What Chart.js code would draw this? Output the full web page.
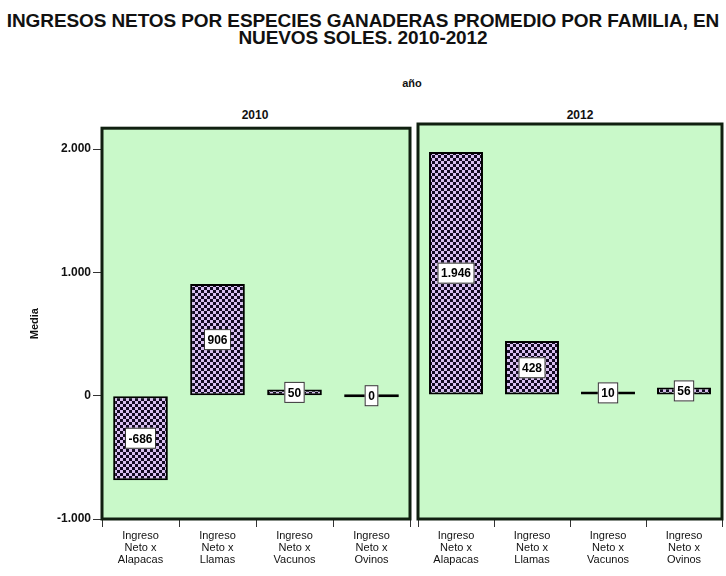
<!DOCTYPE html>
<html>
<head>
<meta charset="utf-8">
<script src="https://cdn.jsdelivr.net/npm/chart.js@4.4.1/dist/chart.umd.min.js"></script>
<style>
body { margin: 0; background: #fff; width: 726px; height: 576px; position: relative; overflow: hidden; font-family: "Liberation Sans", Arial, sans-serif; }
.txt { position: absolute; text-align: center; color: #111; }
#title { left: 0; width: 726px; top: 12px; font-weight: bold; font-size: 19px; line-height: 17px; letter-spacing: -0.1px; white-space: nowrap; }
#anio { left: 0; width: 824px; top: 77px; font-size: 11px; font-weight: bold; }
.year { top: 108px; font-size: 12px; font-weight: bold; width: 100px; }
.box { position: absolute; top: 119px; height: 457px; }
</style>
</head>
<body>
<div id="title" class="txt">INGRESOS NETOS POR ESPECIES GANADERAS PROMEDIO POR FAMILIA, EN<br>NUEVOS SOLES. 2010-2012</div>
<div id="anio" class="txt">año</div>
<div class="txt year" style="left:205px">2010</div>
<div class="txt year" style="left:530px">2012</div>
<div class="box" style="left:0; width:413px"><canvas id="chart2010"></canvas></div>
<div class="box" style="left:414px; width:312px"><canvas id="chart2012"></canvas></div>
<script>
var categorias = [["Ingreso", "Neto x", "Alapacas"], ["Ingreso", "Neto x", "Llamas"], ["Ingreso", "Neto x", "Vacunos"], ["Ingreso", "Neto x", "Ovinos"]]
var valores2010 = [-686, 906, 50, 0]
var valores2012 = [1946, 428, 10, 56]
var yTicks = [-1000, 0, 1000, 2000]

function formato(v) {
    var s = String(Math.abs(Math.round(v))).replace(/\B(?=(\d{3})+(?!\d))/g, ".")
    return (v < 0 ? "-" : "") + s
}

// patron de cuadros para las barras
var pc = document.createElement("canvas")
pc.width = 6
pc.height = 6
var pctx = pc.getContext("2d")
pctx.fillStyle = "#d8bff0"
pctx.fillRect(0, 0, 6, 6)
pctx.fillStyle = "#140a24"
pctx.fillRect(0, 0, 3, 3)
pctx.fillRect(3, 3, 3, 3)
var patron = pctx.createPattern(pc, "repeat")

var panelPlugin = {
    id: "panel",
    beforeDraw: function (chart) {
        var a = chart.chartArea, ctx = chart.ctx
        ctx.save()
        ctx.fillStyle = "#c9f9c9"
        ctx.fillRect(a.left, a.top, a.right - a.left, a.bottom - a.top)
        ctx.restore()
    },
    afterDraw: function (chart) {
        var a = chart.chartArea, ctx = chart.ctx
        ctx.save()
        ctx.strokeStyle = "#102010"
        ctx.lineWidth = 3
        ctx.strokeRect(a.left, a.top, a.right - a.left, a.bottom - a.top)
        ctx.restore()
    }
}

var etiquetasPlugin = {
    id: "etiquetas",
    afterDatasetsDraw: function (chart) {
        var ctx = chart.ctx
        var meta = chart.getDatasetMeta(0)
        var datos = chart.data.datasets[0].data
        ctx.save()
        ctx.font = "bold 12px 'Liberation Sans', sans-serif"
        ctx.textAlign = "center"
        ctx.textBaseline = "middle"
        meta.data.forEach(function (bar, i) {
            var txt = formato(datos[i])
            var cy = (bar.y + bar.base) / 2
            var w = ctx.measureText(txt).width + 7
            var h = 21
            ctx.fillStyle = "#ffffff"
            ctx.fillRect(bar.x - w / 2, cy - h / 2, w, h)
            ctx.strokeStyle = "#333"
            ctx.lineWidth = 1
            ctx.strokeRect(bar.x - w / 2 + 0.5, cy - h / 2 + 0.5, w - 1, h - 1)
            ctx.fillStyle = "#000"
            ctx.fillText(txt, bar.x, cy + 1)
        })
        ctx.restore()
    }
}

function crearGrafico(id, valores, conEje, padding) {
    var ctx = document.getElementById(id).getContext("2d")
    return new Chart(ctx, {
        type: "bar",
        data: {
            labels: categorias,
            datasets: [{
                data: valores,
                backgroundColor: patron,
                borderColor: "#000000",
                borderWidth: 2,
                borderSkipped: false,
                minBarLength: 3,
                barPercentage: 0.71,
                categoryPercentage: 1
            }]
        },
        options: {
            responsive: true,
            maintainAspectRatio: false,
            animation: false,
            layout: { padding: padding },
            plugins: {
                legend: { display: false },
                tooltip: { enabled: false }
            },
            scales: {
                x: {
                    grid: { display: true, drawOnChartArea: false, color: "#333", tickLength: 8 },
                    border: { display: false },
                    ticks: {
                        color: "#111",
                        maxRotation: 0,
                        autoSkip: false,
                        padding: 3,
                        font: { family: "'Liberation Sans', sans-serif", size: 11, lineHeight: 1.1 }
                    },
                    afterFit: function (scale) { scale.height = 57 }
                },
                y: {
                    display: conEje,
                    min: -1000,
                    max: 2170,
                    afterBuildTicks: function (scale) {
                        scale.ticks = yTicks.map(function (v) { return { value: v } })
                    },
                    grid: { display: true, drawOnChartArea: false, color: "#333", tickLength: 9 },
                    border: { display: false },
                    ticks: {
                        color: "#111",
                        padding: 2,
                        font: { family: "'Liberation Sans', sans-serif", size: 12, weight: "bold" },
                        callback: function (v) { return formato(v) }
                    },
                    title: {
                        display: true,
                        text: "Media",
                        color: "#111",
                        font: { family: "'Liberation Sans', sans-serif", size: 11, weight: "bold" },
                        padding: { top: 28, bottom: 0 }
                    },
                    afterFit: function (scale) { scale.width = conEje ? 102 : 0 }
                }
            }
        },
        plugins: [panelPlugin, etiquetasPlugin]
    })
}

crearGrafico("chart2010", valores2010, true, { top: 5, right: 3, left: 0, bottom: 0 })
crearGrafico("chart2012", valores2012, false, { top: 5, right: 4, left: 4, bottom: 0 })
</script>
</body>
</html>
